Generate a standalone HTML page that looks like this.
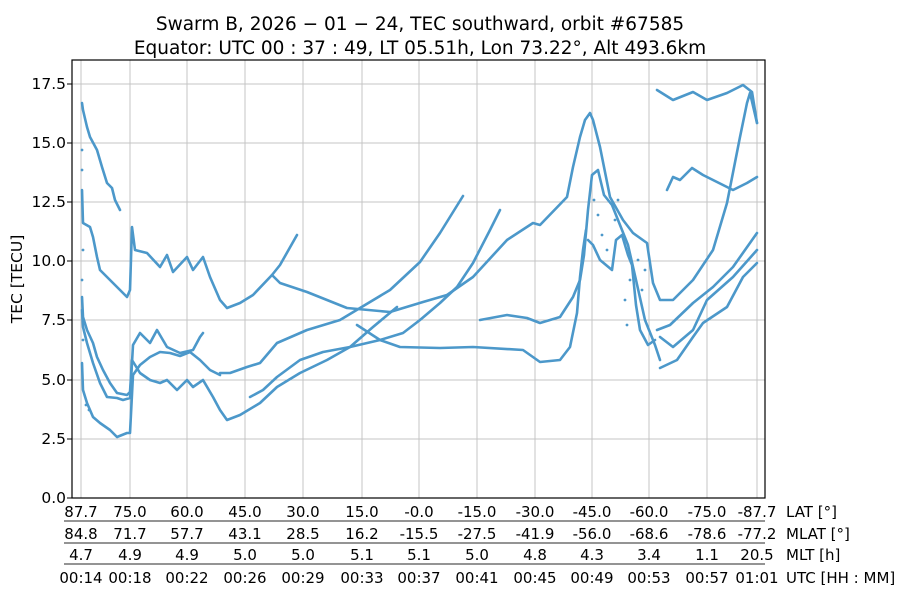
<!DOCTYPE html>
<html><head><meta charset="utf-8"><style>
body{margin:0;background:#fff}
svg{display:block;font-family:"DejaVu Sans","Liberation Sans",sans-serif}
</style></head><body>
<svg width="900" height="600" viewBox="0 0 900 600" xmlns="http://www.w3.org/2000/svg">
<rect width="900" height="600" fill="#fff"/>
<text x="420" y="30" font-size="18.5" text-anchor="middle">Swarm B,  2026 − 01 − 24,  TEC southward,  orbit #67585</text>
<text x="420" y="54" font-size="18.5" text-anchor="middle">Equator:  UTC 00 : 37 : 49,  LT 05.51h,  Lon 73.22°,  Alt 493.6km</text>
<g stroke="#c4c4c4" stroke-width="1">
<line x1="81" y1="60" x2="81" y2="498"/><line x1="130" y1="60" x2="130" y2="498"/><line x1="187" y1="60" x2="187" y2="498"/><line x1="245" y1="60" x2="245" y2="498"/><line x1="303" y1="60" x2="303" y2="498"/><line x1="362" y1="60" x2="362" y2="498"/><line x1="419" y1="60" x2="419" y2="498"/><line x1="477" y1="60" x2="477" y2="498"/><line x1="535" y1="60" x2="535" y2="498"/><line x1="592" y1="60" x2="592" y2="498"/><line x1="649" y1="60" x2="649" y2="498"/><line x1="707" y1="60" x2="707" y2="498"/><line x1="757" y1="60" x2="757" y2="498"/>
<line x1="72" y1="439" x2="765" y2="439"/><line x1="72" y1="380" x2="765" y2="380"/><line x1="72" y1="320" x2="765" y2="320"/><line x1="72" y1="261" x2="765" y2="261"/><line x1="72" y1="202" x2="765" y2="202"/><line x1="72" y1="143" x2="765" y2="143"/><line x1="72" y1="84" x2="765" y2="84"/>
</g>
<g fill="none" stroke="#4c98ca" stroke-width="2.6" stroke-linejoin="round" stroke-linecap="round">
<polyline points="82,103 83,110 87,127 90,137 97,150 102,167 107,183 112,188 115,200 120,210"/>
<polyline points="82,190 83,223 90,227 93,237 97,257 100,270 107,277 113,283 120,290 127,297 130,290 132,227 135,250 147,253 160,267 167,255 173,272 187,257 193,270 203,257 210,277 220,300 227,308 240,303 253,295 272,275 280,265 297,235"/>
<polyline points="272,275 280,283 307,292 347,308 390,312 423,302 447,295 473,277 507,240 533,223 540,225 567,197 573,167 580,137 585,120 590,113 593,120 600,147 610,197 623,220 633,233 647,243 653,283 660,300 673,300 693,280 713,250 727,203 740,137 747,103 750,93 757,123"/>
<polyline points="657,90 673,100 693,92 707,100 727,93 743,85 752,92 757,123"/>
<polyline points="667,190 673,177 680,180 692,168 703,175 723,185 733,190 747,183 757,177"/>
<polyline points="657,330 670,325 693,303 713,287 733,267 757,233"/>
<polyline points="660,337 673,347 693,330 707,300 733,277 757,250"/>
<polyline points="660,368 677,360 693,337 703,323 727,307 743,277 757,263"/>
<polyline points="220,373 230,373 247,367 260,363 277,343 307,330 340,320 360,308 390,290 420,262 440,233 463,196"/>
<polyline points="250,397 263,390 277,377 300,360 323,352 350,347 380,340 403,333 420,320 440,303 457,287 473,263 490,230 500,210"/>
<polyline points="82,297 83,317 87,330 93,343 97,357 103,370 110,383 117,393 127,395 130,392 132,360 140,373 150,380 160,383 167,380 177,390 187,380 193,387 203,380 213,397 220,410 227,420 240,415 260,403 277,387 300,373 327,360 350,347 373,327 397,307"/>
<polyline points="82,310 83,327 87,343 93,363 100,383 107,397 117,398 123,400 130,398 133,345 140,333 150,343 157,330 167,347 180,353 193,350 200,337 203,333"/>
<polyline points="82,363 83,390 87,403 93,417 100,423 110,430 117,437 127,433 130,433 133,375 140,365 150,357 160,352 170,353 180,356 190,352 200,360 210,370 220,375"/>
<polyline points="357,325 380,340 400,347 440,348 473,347 523,350 540,362 560,360 570,347 577,313 580,277 583,250 586,230"/>
<polyline points="480,320 507,315 527,318 540,323 560,317 573,297 580,280 584,255 588,210 592,175 598,170 604,195 612,205 620,225 628,245 636,280 645,320 655,345 660,360"/>
<polyline points="588,240 593,245 600,260 606,265 612,270 616,240 622,235 628,255 632,265 636,305 640,330 648,345 655,340"/>
</g>
<g fill="#4c98ca">
<circle cx="82" cy="150" r="1.4"/><circle cx="82" cy="170" r="1.4"/><circle cx="83" cy="250" r="1.4"/><circle cx="82" cy="280" r="1.4"/><circle cx="83" cy="340" r="1.4"/><circle cx="86" cy="405" r="1.4"/><circle cx="89" cy="410" r="1.4"/>
<circle cx="598" cy="215" r="1.4"/><circle cx="602" cy="235" r="1.4"/><circle cx="607" cy="250" r="1.4"/><circle cx="615" cy="220" r="1.4"/><circle cx="625" cy="300" r="1.4"/><circle cx="627" cy="325" r="1.4"/><circle cx="630" cy="280" r="1.4"/><circle cx="638" cy="260" r="1.4"/><circle cx="642" cy="290" r="1.4"/><circle cx="645" cy="270" r="1.4"/><circle cx="594" cy="200" r="1.4"/><circle cx="618" cy="200" r="1.4"/>
</g>
<rect x="72" y="60" width="693" height="438" fill="none" stroke="#000" stroke-width="1.2"/>
<g font-size="15.5" text-anchor="end">
<text x="66" y="503">0.0</text><text x="66" y="444">2.5</text><text x="66" y="385">5.0</text><text x="66" y="325">7.5</text><text x="66" y="266">10.0</text><text x="66" y="207">12.5</text><text x="66" y="148">15.0</text><text x="66" y="89">17.5</text>
</g>
<g stroke="#000" stroke-width="1"><line x1="67" y1="498" x2="72" y2="498"/><line x1="67" y1="439" x2="72" y2="439"/><line x1="67" y1="380" x2="72" y2="380"/><line x1="67" y1="320" x2="72" y2="320"/><line x1="67" y1="261" x2="72" y2="261"/><line x1="67" y1="202" x2="72" y2="202"/><line x1="67" y1="143" x2="72" y2="143"/><line x1="67" y1="84" x2="72" y2="84"/></g>
<text transform="translate(22,279) rotate(-90)" font-size="15.5" text-anchor="middle">TEC [TECU]</text>
<g stroke="#555" stroke-width="1.2"><line x1="64" y1="521" x2="765" y2="521"/><line x1="64" y1="543" x2="765" y2="543"/><line x1="64" y1="564" x2="765" y2="564"/></g>
<g font-size="15" text-anchor="middle">
<text x="81" y="517">87.7</text><text x="130" y="517">75.0</text><text x="187" y="517">60.0</text><text x="245" y="517">45.0</text><text x="303" y="517">30.0</text><text x="362" y="517">15.0</text><text x="419" y="517">-0.0</text><text x="477" y="517">-15.0</text><text x="535" y="517">-30.0</text><text x="592" y="517">-45.0</text><text x="649" y="517">-60.0</text><text x="707" y="517">-75.0</text><text x="757" y="517">-87.7</text>
<text x="81" y="539">84.8</text><text x="130" y="539">71.7</text><text x="187" y="539">57.7</text><text x="245" y="539">43.1</text><text x="303" y="539">28.5</text><text x="362" y="539">16.2</text><text x="419" y="539">-15.5</text><text x="477" y="539">-27.5</text><text x="535" y="539">-41.9</text><text x="592" y="539">-56.0</text><text x="649" y="539">-68.6</text><text x="707" y="539">-78.6</text><text x="757" y="539">-77.2</text>
<text x="81" y="560">4.7</text><text x="130" y="560">4.9</text><text x="187" y="560">4.9</text><text x="245" y="560">5.0</text><text x="303" y="560">5.0</text><text x="362" y="560">5.1</text><text x="419" y="560">5.1</text><text x="477" y="560">5.0</text><text x="535" y="560">4.8</text><text x="592" y="560">4.3</text><text x="649" y="560">3.4</text><text x="707" y="560">1.1</text><text x="757" y="560">20.5</text>
<text x="81" y="583">00:14</text><text x="130" y="583">00:18</text><text x="187" y="583">00:22</text><text x="245" y="583">00:26</text><text x="303" y="583">00:29</text><text x="362" y="583">00:33</text><text x="419" y="583">00:37</text><text x="477" y="583">00:41</text><text x="535" y="583">00:45</text><text x="592" y="583">00:49</text><text x="649" y="583">00:53</text><text x="707" y="583">00:57</text><text x="757" y="583">01:01</text>
</g>
<g font-size="15">
<text x="786" y="517">LAT [°]</text><text x="786" y="539">MLAT [°]</text><text x="786" y="560">MLT [h]</text><text x="786" y="583">UTC [HH : MM]</text>
</g>
</svg>
</body></html>
